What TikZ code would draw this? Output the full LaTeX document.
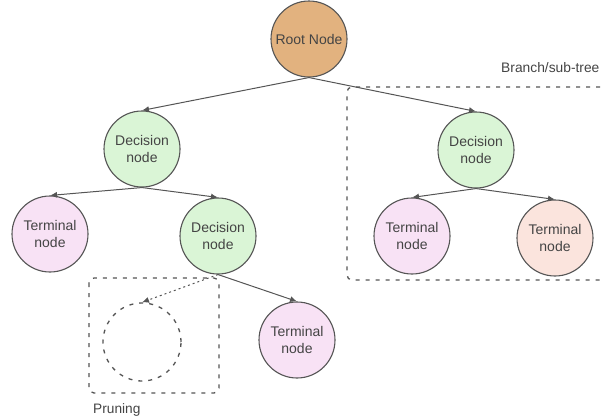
\documentclass[tikz,border=0pt]{standalone}
\usepackage{fontspec}
\setmainfont{Liberation Sans}
\usetikzlibrary{arrows.meta}
\definecolor{rootfill}{HTML}{E2B27F}
\definecolor{decfill}{HTML}{DAF5D6}
\definecolor{termfill}{HTML}{F8E2F5}
\definecolor{salmonfill}{HTML}{FBE4DD}
\definecolor{linegray}{HTML}{555555}
\definecolor{textgray}{HTML}{444444}
\begin{document}
\begin{tikzpicture}[x=1pt,y=-1pt,
  treenode/.style={circle,draw=linegray,line width=1.1pt,minimum size=76pt,inner sep=0pt,
    align=center,text=textgray,font=\fontsize{14}{16.5}\selectfont},
  edge/.style={draw=linegray,line width=1pt,-{Latex[length=7pt,width=6pt]}},
  groupbox/.style={draw=linegray,line width=1.3pt,dash pattern=on 4pt off 6pt,rounded corners=5pt},
  label/.style={text=textgray,anchor=base west,inner sep=0pt}]
\useasboundingbox (0,0) rectangle (602,418);
% group boxes
\draw [groupbox] (620,87) -- (347,87) -- (347,280) -- (620,280);
\draw [groupbox] (89,278) rectangle (219,393);
\node [label,font=\fontsize{13.8}{16}\selectfont] (BranchLabel) at (501,72) {Branch/sub-tree};
\node [label,font=\fontsize{13.7}{16}\selectfont] (PruneLabel) at (93,413) {Pruning};
% tree nodes
\node at (309,39) [treenode,fill=rootfill] (Root) {Root Node};
\node at (142,149) [treenode,fill=decfill] (DecL) {Decision\\node};
\node at (476,150) [treenode,fill=decfill] (DecR) {Decision\\node};
\node at (50,234) [treenode,fill=termfill] (TermL) {Terminal\\node};
\node at (218,236) [treenode,fill=decfill] (DecM) {Decision\\node};
\node at (412,236) [treenode,fill=termfill] (TermR1) {Terminal\\node};
\node at (555,238) [treenode,fill=salmonfill] (TermR2) {Terminal\\node};
\node at (297,340) [treenode,fill=termfill] (TermB) {Terminal\\node};
\node at (142,342) [circle,draw=linegray,line width=1.3pt,dash pattern=on 4pt off 6pt,minimum size=78pt] (Pruned) {};
% edges
\draw [edge] (Root.south) -- (DecL.north);
\draw [edge] (Root.south) -- (DecR.north);
\draw [edge] (DecL.south) -- (TermL.north);
\draw [edge] (DecL.south) -- (DecM.north);
\draw [edge] (DecR.south) -- (TermR1.north);
\draw [edge] (DecR.south) -- (TermR2.north);
\draw [edge] (DecM.south) -- (TermB.north);
\draw [edge,dash pattern=on 2pt off 3pt] (DecM.south) -- (Pruned.north);
\end{tikzpicture}
\end{document}
